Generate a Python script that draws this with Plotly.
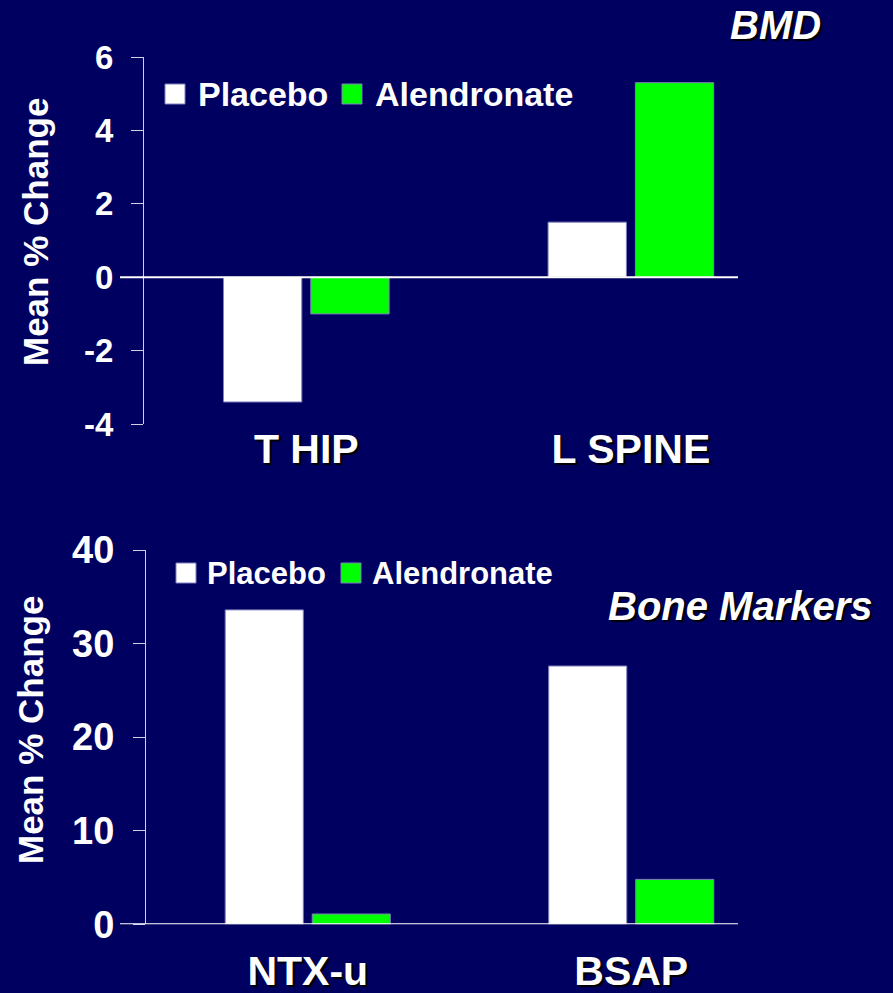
import plotly.graph_objects as go

# ---- data ----
bmd_sites = ["T HIP", "L SPINE"]
bmd_placebo = [-3.4, 1.5]
bmd_alendronate = [-1.0, 5.3]

marker_names = ["NTX-u", "BSAP"]
marker_placebo = [33.6, 27.6]
marker_alendronate = [1.1, 4.8]

series_names = ["Placebo", "Alendronate"]
series_colors = ["#ffffff", "#00ff00"]

bmd_ticks = [-4, -2, 0, 2, 4, 6]
marker_ticks = [0, 10, 20, 30, 40]

# ---- styling ----
W, H = 893, 993
BG = "#000060"
AXIS = "#d0d0e0"
OUTLINE = "#8080c0"
FONT = "Liberation Sans, Arial, sans-serif"
SHADOW = "2px 2px 1px #000000"


def px(x):
    return x / W


def py(y):
    return 1 - y / H


fig = go.Figure()

panels = [
    ("x", "y", bmd_sites, [bmd_placebo, bmd_alendronate]),
    ("x2", "y2", marker_names, [marker_placebo, marker_alendronate]),
]
for xa, ya, cats, vals in panels:
    for name, color, v in zip(series_names, series_colors, vals):
        fig.add_trace(go.Bar(
            x=cats, y=v, name=name, xaxis=xa, yaxis=ya,
            marker=dict(color=color, line=dict(color=OUTLINE, width=1)),
            showlegend=False, hoverinfo="skip",
        ))


def value_axis(size):
    return dict(
        showgrid=False, zeroline=False, showline=True, linecolor=AXIS, linewidth=1,
        ticks="outside", ticklen=12, tickcolor=AXIS, tickwidth=1,
        tickfont=dict(family=FONT, size=size, color="white", weight="bold"),
        ticklabelstandoff=11, fixedrange=True, automargin=False,
    )


category_axis = dict(
    showgrid=False, zeroline=False, showline=False, ticks="",
    tickfont=dict(family=FONT, size=41, color="white", weight="bold", shadow=SHADOW),
    range=[-0.5, 1.33], fixedrange=True, automargin=False,
)

fig.update_layout(
    width=W, height=H,
    margin=dict(l=0, r=0, t=0, b=0),
    paper_bgcolor=BG, plot_bgcolor=BG,
    barmode="group", bargap=0.462, bargroupgap=0.103,
    xaxis=dict(domain=[px(144), px(738)], anchor="free", position=py(421),
               ticklabelstandoff=0, **category_axis),
    yaxis=dict(domain=[py(424), py(57)], anchor="x", range=[-4, 6],
               tickvals=bmd_ticks, ticktext=[str(t) for t in bmd_ticks], **value_axis(33)),
    xaxis2=dict(domain=[px(146), px(738)], anchor="y2", ticklabelstandoff=19, **category_axis),
    yaxis2=dict(domain=[py(924.3), py(550)], anchor="x2", range=[0, 40],
                tickvals=marker_ticks, ticktext=[str(t) for t in marker_ticks], **value_axis(38)),
)

# baselines at zero, reaching a little left of the value axis
for xr, yr, left in [("x domain", "y", (120 - 144) / 594), ("x2 domain", "y2", (120 - 146) / 592)]:
    fig.add_shape(type="line", xref=xr, yref=yr, x0=left, x1=1, y0=0, y1=0,
                  line=dict(color="white", width=2))

# legends: square swatch + label for each series
legend_rows = [
    # (swatch x positions, text x positions, center y, swatch size, font size)
    ([165, 342], [196, 373], 94, 20, 34),
    ([176, 341], [205, 370], 573, 20, 31),
]
for sx, tx, cy, s, fs in legend_rows:
    for name, color, x0, xt in zip(series_names, series_colors, sx, tx):
        fig.add_shape(type="rect", xref="paper", yref="paper",
                      x0=px(x0), x1=px(x0 + s), y0=py(cy + s / 2), y1=py(cy - s / 2),
                      fillcolor=color, line=dict(color=OUTLINE, width=1))
        fig.add_annotation(text=name, xref="paper", yref="paper", x=px(xt), y=py(cy),
                           xanchor="left", yanchor="middle", showarrow=False,
                           font=dict(family=FONT, size=fs, color="white", weight="bold"))

# value-axis titles
for cx, cy in [(36, 232), (30, 730)]:
    fig.add_annotation(text="Mean % Change", xref="paper", yref="paper", x=px(cx), y=py(cy),
                       xanchor="center", yanchor="middle", textangle=-90, showarrow=False,
                       font=dict(family=FONT, size=35, color="white", weight="bold"))

# panel titles
for text, rx, cy in [("BMD", 823, 25), ("Bone Markers", 875, 606)]:
    fig.add_annotation(text=text, xref="paper", yref="paper", x=px(rx), y=py(cy),
                       xanchor="right", yanchor="middle", showarrow=False,
                       font=dict(family=FONT, size=40, color="white", weight="bold",
                                 style="italic", shadow=SHADOW))

fig.write_html("out.html")
